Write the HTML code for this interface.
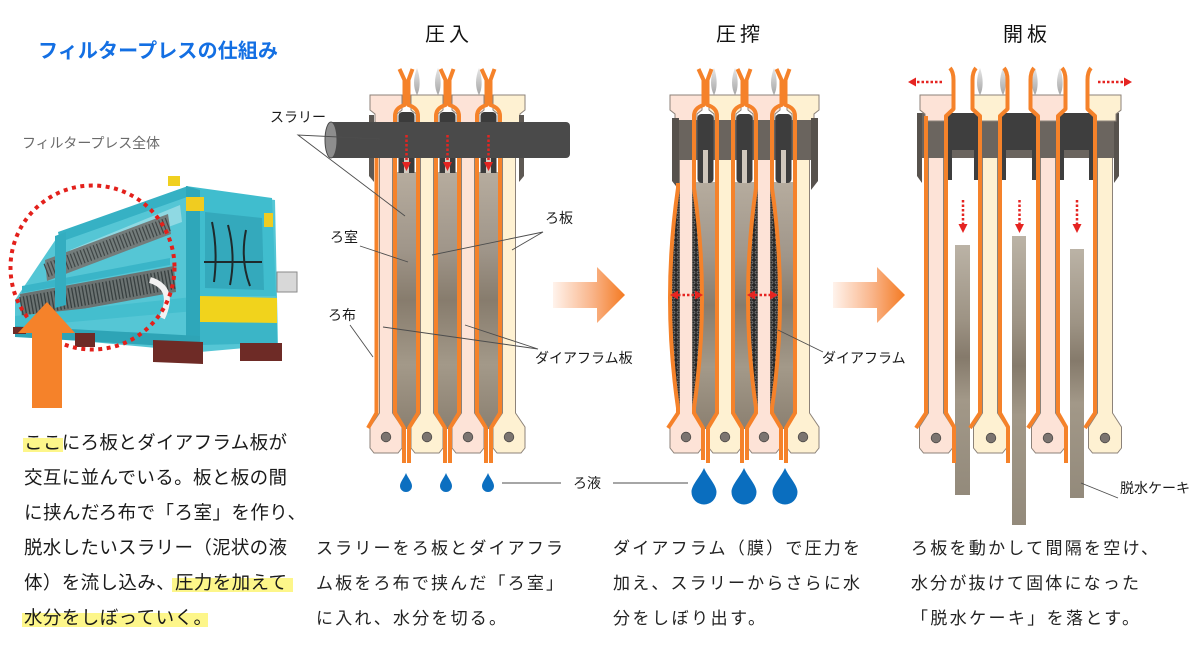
<!DOCTYPE html>
<html><head><meta charset="utf-8">
<style>
html,body{margin:0;padding:0;background:#fff;}
svg{display:block;}
text{font-family:"Liberation Sans","Noto Sans CJK JP",sans-serif;}
</style></head><body>
<svg width="1200" height="660" viewBox="0 0 1200 660" xmlns="http://www.w3.org/2000/svg">
<defs>
 <linearGradient id="arrowG" x1="0" x2="1" y1="0" y2="0">
  <stop offset="0" stop-color="#fff3ec"/>
  <stop offset="0.55" stop-color="#f9b489"/>
  <stop offset="1" stop-color="#f47a22"/>
 </linearGradient>
 <linearGradient id="chG" x1="0" x2="0" y1="0" y2="1">
  <stop offset="0" stop-color="#b6ac9e"/>
  <stop offset="0.3" stop-color="#a0968a"/>
  <stop offset="0.5" stop-color="#877c6d"/>
  <stop offset="0.75" stop-color="#a39989"/>
  <stop offset="1" stop-color="#8b8071"/>
 </linearGradient>
 <linearGradient id="cakeG" x1="0" x2="0" y1="0" y2="1">
  <stop offset="0" stop-color="#bbb3a6"/>
  <stop offset="0.3" stop-color="#9d9384"/>
  <stop offset="0.45" stop-color="#857a6b"/>
  <stop offset="0.62" stop-color="#a29888"/>
  <stop offset="1" stop-color="#938a7b"/>
 </linearGradient>
 <linearGradient id="flameG" x1="0" x2="0" y1="0" y2="1">
  <stop offset="0" stop-color="#e6e6e6"/>
  <stop offset="1" stop-color="#a5a5a5"/>
 </linearGradient>
 <pattern id="mesh" width="5" height="5" patternUnits="userSpaceOnUse">
  <rect width="5" height="5" fill="#262626"/>
  <circle cx="2.5" cy="2.5" r="1.5" fill="none" stroke="#808080" stroke-width="0.7"/>
 </pattern>
 <path id="plateA" d="M-16,95H16V110L11,114V122L6.5,124V413L16,427V448L12,453H-12L-16,448V427L-6.5,413V124L-11,122V114L-16,110Z"/>
 <path id="plateB" d="M-16,95H16V110L11,114V122L7.5,124V413L16.5,427V448L12.5,453H-12.5L-16.5,448V427L-7.5,413V124L-11,122V114L-16,110Z"/>
 <path id="capB" d="M-16,95H16V110L11,114V121H-11V114L-16,110Z"/>
 <path id="chA" d="M-10,172H10V413L1,429H-1L-10,413Z"/>
 <path id="chB" d="M-10,182H10V413L1,429H-1L-10,413Z"/>
 <path id="clL" d="M-7,69L-2,80V105Q-11.5,108 -11.5,116V413L-2.5,428V463"/>
 <path id="clR" d="M6,69L2,80V105Q11.5,108 11.5,116V413L2.5,428V463"/>
 <path id="clLb" d="M-7,69L-2,80V105Q-11.5,108 -11.5,116V188Q4.5,298 -11.5,408V413L-2.5,428V460"/>
 <path id="clRb" d="M6,69L2,80V105Q11.5,108 11.5,116V188Q-4.5,298 11.5,408V413L2.5,428V460"/>
 <path id="bulL" d="M-6.5,188H-8Q-24,298 -8,408H-6.5Z"/>
 <path id="bulR" d="M6.5,188H8Q24,298 8,408H6.5Z"/>
 <path id="p3R" d="M14,68Q17.5,72 17.5,80V109L10,116V413L18,427V463"/>
 <path id="p3L" d="M-14,68Q-17.5,72 -17.5,80V109L-10,116V413L-20,428"/>
 <path id="p3L1" d="M-10,116V413L-20,428"/>
 <path id="flame" d="M0,95C-4,88 -4,78 0,68C3,76 4,88 0,95Z"/>
 <path id="dropS" d="M0,-9C2,-4 6,0 6,4A6,6 0 0 1 -6,4C-6,0 -2,-4 0,-9Z"/>
 <path id="dropL" d="M0,-17C4,-8 12.5,0 12.5,7A12.5,12.5 0 0 1 -12.5,7C-12.5,0 -4,-8 0,-17Z"/>
</defs>

<!-- ===== Title & photo ===== -->
<text x="38" y="57.5" font-size="20" font-weight="bold" fill="#136fe3" textLength="240" lengthAdjust="spacing">フィルタープレスの仕組み</text>
<text x="22" y="148" font-size="14" fill="#6a6a6a" textLength="138" lengthAdjust="spacing">フィルタープレス全体</text>

<g>
 <polygon points="15,300 58,236 188,189 275,200 278,345 200,352 15,335" fill="#55c6d5"/>
 <polygon points="70,250 180,205 182,222 72,262" fill="#8fd9e3"/>
 <polygon points="45,260 168,214 171,234 47,281" fill="#737c7b"/>
 <line x1="46" y1="270.5" x2="169" y2="224" stroke="#3f4646" stroke-width="14" stroke-dasharray="1.2 2.3"/>
 <polygon points="20,294 174,266 176,292 22,320" fill="#6b7372"/>
 <line x1="21" y1="307" x2="175" y2="279" stroke="#384040" stroke-width="20" stroke-dasharray="1.3 2.2"/>
 <polygon points="58,232 188,186 190,196 60,242" fill="#36b1c4"/>
 <polygon points="22,286 170,258 170,265 22,293" fill="#3ab5c8"/>
 <polygon points="15,316 192,297 195,311 15,327" fill="#44bece"/>
 <polygon points="55,236 66,232 66,305 55,308" fill="#33adc0"/>
 <polygon points="186,186 272,198 276,296 200,296" fill="#40bdce"/>
 <polygon points="205,212 262,218 264,290 205,288" fill="#34a9bc"/>
 <path d="M212,222 Q218,250 214,282 M228,225 Q236,255 230,285 M246,230 Q240,260 250,286 M204,262 L262,262" stroke="#1e2a2c" stroke-width="2" fill="none"/>
 <polygon points="186,186 200,190 200,340 186,336" fill="#2ea7ba"/>
 <polygon points="200,296 277,298 277,323 200,322" fill="#f1d31c"/>
 <polygon points="200,322 277,323 277,343 200,345" fill="#3bb5c7"/>
 <polygon points="15,326 200,336 200,348 15,337" fill="#2ea4b6"/>
 <polygon points="153,340 203,342 203,364 153,362" fill="#6e2b26"/>
 <polygon points="240,343 282,343 282,361 240,361" fill="#6e2b26"/>
 <rect x="75" y="333" width="20" height="14" fill="#6e2b26"/>
 <rect x="13" y="327" width="13" height="7" fill="#6e2b26"/>
 <rect x="277" y="272" width="20" height="20" fill="#d8d8d8" stroke="#8a8a8a"/>
 <rect x="168" y="176" width="12" height="10" fill="#f0d020"/>
 <rect x="186" y="197" width="18" height="14" fill="#f0cc20"/>
 <rect x="264" y="213" width="9" height="14" fill="#f0cc20"/>
 <path d="M150,280 Q176,288 162,318" stroke="#f2f2f2" stroke-width="6" fill="none"/>
</g>
<circle cx="92.5" cy="267.5" r="82" fill="none" stroke="#e3201b" stroke-width="4" stroke-dasharray="4 4.5"/>
<polygon points="32,408 32,333 18,333 47,302 75,333 62,333 62,408" fill="#f5822a"/>

<!-- left text -->
<rect x="23" y="438" width="40" height="14" fill="#fdf68a"/>
<rect x="172" y="578" width="121" height="14" fill="#fdf68a"/>
<rect x="22" y="613" width="186" height="14" fill="#fdf68a"/>
<g font-size="18.5" fill="#1a1a1a">
 <text x="24" y="449" textLength="263" lengthAdjust="spacing">ここにろ板とダイアフラム板が</text>
 <text x="24" y="484" textLength="263" lengthAdjust="spacing">交互に並んでいる。板と板の間</text>
 <text x="24" y="519" textLength="282" lengthAdjust="spacing">に挟んだろ布で「ろ室」を作り、</text>
 <text x="24" y="554" textLength="263" lengthAdjust="spacing">脱水したいスラリー（泥状の液</text>
 <text x="24" y="589" textLength="263" lengthAdjust="spacing">体）を流し込み、圧力を加えて</text>
 <text x="24" y="624" textLength="188" lengthAdjust="spacing">水分をしぼっていく。</text>
</g>

<!-- headings -->
<g font-size="20" fill="#111" style="letter-spacing:4px">
 <text x="425" y="41">圧入</text>
 <text x="716" y="41">圧搾</text>
 <text x="1003" y="41">開板</text>
</g>

<!-- ===== Panel 1 ===== -->
<g>
 <use href="#flame" x="417" fill="url(#flameG)"/>
 <use href="#flame" x="438" fill="url(#flameG)"/>
 <use href="#flame" x="479" fill="url(#flameG)"/>
 <use href="#chA" x="406.5" fill="url(#chG)"/>
 <use href="#chA" x="447.5" fill="url(#chG)"/>
 <use href="#chA" x="488.5" fill="url(#chG)"/>
 <g stroke="#8c8279" stroke-width="1">
  <use href="#plateA" x="386" fill="#fde3d7"/>
  <use href="#plateA" x="427" fill="#fef1d2"/>
  <use href="#plateA" x="468" fill="#fde3d7"/>
  <use href="#plateA" x="509" fill="#fef1d2"/>
 </g>
 <g fill="#7b7470" stroke="#4e4a47" stroke-width="0.8">
  <circle cx="386" cy="437" r="4.8"/><circle cx="427" cy="437" r="4.8"/>
  <circle cx="468" cy="437" r="4.8"/><circle cx="509" cy="437" r="4.8"/>
 </g>
 <polygon points="369,115 374,115 374,182 369,176" fill="#5d5853"/>
 <polygon points="519,115 524,115 524,176 519,182" fill="#5d5853"/>
 <g fill="#3b3b3b">
  <rect x="398.5" y="112" width="16" height="14" rx="4"/>
  <rect x="439.5" y="112" width="16" height="14" rx="4"/>
  <rect x="480.5" y="112" width="16" height="14" rx="4"/>
  <rect x="398.5" y="156" width="16" height="17"/>
  <rect x="439.5" y="156" width="16" height="17"/>
  <rect x="480.5" y="156" width="16" height="17"/>
 </g>
 <g fill="#d2cac0">
  <rect x="404" y="156" width="5" height="17"/>
  <rect x="445" y="156" width="5" height="17"/>
  <rect x="486" y="156" width="5" height="17"/>
 </g>
 <g fill="none" stroke="#f5822a" stroke-width="4" stroke-linejoin="round">
  <use href="#clL" x="406.5"/><use href="#clR" x="406.5"/>
  <use href="#clL" x="447.5"/><use href="#clR" x="447.5"/>
  <use href="#clL" x="488.5"/><use href="#clR" x="488.5"/>
  <path d="M376.5,122V413L368,428"/>
 </g>
 <rect x="328" y="122" width="242" height="36" rx="4" fill="#4a4a4a"/>
 <ellipse cx="331" cy="140" rx="6" ry="18" fill="#8d8d8d" stroke="#4a4a4a"/>
 <g stroke="#e52421" stroke-width="2.5" stroke-dasharray="2.5 2">
  <line x1="406.5" y1="135" x2="406.5" y2="163"/>
  <line x1="447.5" y1="135" x2="447.5" y2="163"/>
  <line x1="488.5" y1="135" x2="488.5" y2="163"/>
 </g>
 <g fill="#e52421">
  <polygon points="402,162 411,162 406.5,171"/>
  <polygon points="443,162 452,162 447.5,171"/>
  <polygon points="484,162 493,162 488.5,171"/>
 </g>
 <g fill="#0c6fc0">
  <use href="#dropS" x="406" y="482"/>
  <use href="#dropS" x="446" y="482"/>
  <use href="#dropS" x="488" y="482"/>
 </g>
</g>

<!-- ===== Panel 2 ===== -->
<g>
 <use href="#flame" x="714" fill="url(#flameG)"/>
 <use href="#flame" x="735" fill="url(#flameG)"/>
 <use href="#flame" x="774" fill="url(#flameG)"/>
 <use href="#chB" x="705.5" fill="url(#chG)"/>
 <use href="#chB" x="744.5" fill="url(#chG)"/>
 <use href="#chB" x="783.5" fill="url(#chG)"/>
 <g stroke="#8c8279" stroke-width="1">
  <use href="#plateA" x="686" fill="#fde3d7"/>
  <use href="#plateA" x="725" fill="#fef1d2"/>
  <use href="#plateA" x="764" fill="#fde3d7"/>
  <use href="#plateA" x="803" fill="#fef1d2"/>
 </g>
 <g fill="#7b7470" stroke="#4e4a47" stroke-width="0.8">
  <circle cx="686" cy="437" r="4.8"/><circle cx="725" cy="437" r="4.8"/>
  <circle cx="764" cy="437" r="4.8"/><circle cx="803" cy="437" r="4.8"/>
 </g>
 <g fill="url(#mesh)">
  <use href="#bulL" x="686"/><use href="#bulR" x="686"/>
  <use href="#bulL" x="764"/><use href="#bulR" x="764"/>
 </g>
 <rect x="673" y="120" width="144" height="40" fill="#6a645e"/>
 <polygon points="672,118 679,118 679,190 672,181" fill="#57524d"/>
 <polygon points="811,118 818,118 818,181 811,190" fill="#57524d"/>
 <g fill="#3d3d3d">
  <rect x="697.5" y="114" width="16" height="69" rx="4"/>
  <rect x="736.5" y="114" width="16" height="69" rx="4"/>
  <rect x="775.5" y="114" width="16" height="69" rx="4"/>
 </g>
 <g fill="#cfc7bc">
  <rect x="703" y="150" width="5" height="33"/>
  <rect x="742" y="150" width="5" height="33"/>
  <rect x="781" y="150" width="5" height="33"/>
 </g>
 <g fill="none" stroke="#f5822a" stroke-width="4" stroke-linejoin="round">
  <use href="#clLb" x="705.5"/><use href="#clR" x="705.5"/>
  <use href="#clL" x="744.5"/><use href="#clRb" x="744.5"/>
  <use href="#clLb" x="783.5"/><use href="#clR" x="783.5"/>
  <path d="M678,183V188Q662,298 678,408V413L668,428"/>
 </g>
 <g stroke="#e52421" stroke-width="2.5" stroke-dasharray="2.5 2">
  <line x1="678" y1="295" x2="695" y2="295"/>
  <line x1="755" y1="295" x2="770" y2="295"/>
 </g>
 <g fill="#e52421">
  <polygon points="670,295 678,290.5 678,299.5"/>
  <polygon points="703,295 695,290.5 695,299.5"/>
  <polygon points="747,295 755,290.5 755,299.5"/>
  <polygon points="778,295 770,290.5 770,299.5"/>
 </g>
 <g fill="#0a6ebf">
  <use href="#dropL" x="704" y="485"/>
  <use href="#dropL" x="744" y="485"/>
  <use href="#dropL" x="785" y="485"/>
 </g>
</g>

<!-- ===== Panel 3 ===== -->
<g>
 <g stroke="#8c8279" stroke-width="1">
  <use href="#plateB" x="936" fill="#fde3d7"/>
  <use href="#plateB" x="990" fill="#fef1d2"/>
  <use href="#plateB" x="1048" fill="#fde3d7"/>
  <use href="#plateB" x="1105" fill="#fef1d2"/>
 </g>
 <g fill="#7b7470" stroke="#4e4a47" stroke-width="0.8">
  <circle cx="936" cy="438" r="4.8"/><circle cx="991" cy="438" r="4.8"/>
  <circle cx="1048" cy="438" r="4.8"/><circle cx="1105" cy="438" r="4.8"/>
 </g>
 <rect x="917" y="113" width="202" height="45" fill="#6b655f"/>
 <polygon points="917,113 922,113 922,183 917,176" fill="#57524d"/>
 <polygon points="1114,113 1119,113 1119,176 1114,183" fill="#57524d"/>
 <g stroke="#8c8279" stroke-width="1">
  <use href="#capB" x="936" fill="#fde3d7"/>
  <use href="#capB" x="990" fill="#fef1d2"/>
  <use href="#capB" x="1048" fill="#fde3d7"/>
  <use href="#capB" x="1105" fill="#fef1d2"/>
 </g>
 <g fill="#3e3e3e">
  <rect x="947" y="113" width="32" height="37"/>
  <rect x="947" y="150" width="5" height="30"/>
  <rect x="974" y="150" width="5" height="30"/>
  <rect x="1001" y="113" width="36" height="37"/>
  <rect x="1001" y="150" width="5" height="30"/>
  <rect x="1032" y="150" width="5" height="30"/>
  <rect x="1059" y="113" width="35" height="37"/>
  <rect x="1059" y="150" width="5" height="30"/>
  <rect x="1089" y="150" width="5" height="30"/>
 </g>
 <g fill="url(#cakeG)">
  <rect x="955" y="245" width="15" height="250"/>
  <rect x="1012" y="236" width="14" height="289"/>
  <rect x="1070" y="249" width="14" height="249"/>
 </g>
 <use href="#flame" x="980" fill="url(#flameG)"/>
 <use href="#flame" x="1003" fill="url(#flameG)"/>
 <use href="#flame" x="1035" fill="url(#flameG)"/>
 <use href="#flame" x="1060" fill="url(#flameG)"/>
 <g fill="none" stroke="#f5822a" stroke-width="4" stroke-linejoin="round">
  <use href="#p3L1" x="936"/><use href="#p3R" x="936"/>
  <use href="#p3L" x="990"/><use href="#p3R" x="990"/>
  <use href="#p3L" x="1048"/><use href="#p3R" x="1048"/>
  <use href="#p3L" x="1105"/>
 </g>
 <g stroke="#e52421" stroke-width="2.5" stroke-dasharray="2.5 2">
  <line x1="942" y1="82" x2="916" y2="82"/>
  <line x1="1098" y1="82" x2="1124" y2="82"/>
  <line x1="963" y1="200" x2="963" y2="225"/>
  <line x1="1019.5" y1="200" x2="1019.5" y2="225"/>
  <line x1="1077" y1="200" x2="1077" y2="225"/>
 </g>
 <g fill="#e52421">
  <polygon points="908,82 916,77.5 916,86.5"/>
  <polygon points="1132,82 1124,77.5 1124,86.5"/>
  <polygon points="958.5,224 967.5,224 963,233"/>
  <polygon points="1015,224 1024,224 1019.5,233"/>
  <polygon points="1072.5,224 1081.5,224 1077,233"/>
 </g>
</g>

<!-- big arrows -->
<polygon points="553,282 597,282 597,267 625,295 597,323 597,308 553,308" fill="url(#arrowG)"/>
<polygon points="833,282 877,282 877,267 905,295 877,323 877,308 833,308" fill="url(#arrowG)"/>

<!-- leader lines -->
<g stroke="#4d4d4d" stroke-width="0.9" fill="none">
 <path d="M380,139L298,135L405,216"/>
 <line x1="360" y1="246" x2="408" y2="262"/>
 <path d="M432,255L543,232L512,250"/>
 <line x1="350" y1="325" x2="373" y2="357"/>
 <path d="M383,327L538,349L465,325"/>
 <line x1="502" y1="483" x2="561" y2="483"/>
 <line x1="613" y1="483" x2="688" y2="483"/>
 <line x1="823" y1="352" x2="778" y2="330"/>
 <line x1="1118" y1="498" x2="1081" y2="483"/>
</g>

<!-- labels -->
<g font-size="14" fill="#1a1a1a">
 <text x="270" y="122">スラリー</text>
 <text x="330" y="242">ろ室</text>
 <text x="545" y="223">ろ板</text>
 <text x="328" y="320">ろ布</text>
 <text x="535" y="363">ダイアフラム板</text>
 <text x="573" y="488">ろ液</text>
 <text x="822" y="363">ダイアフラム</text>
 <text x="1120" y="493">脱水ケーキ</text>
</g>

<!-- bottom texts -->
<g font-size="17" fill="#222">
 <text x="316" y="554" textLength="247" lengthAdjust="spacing">スラリーをろ板とダイアフラ</text>
 <text x="316" y="589" textLength="247" lengthAdjust="spacing">ム板をろ布で挟んだ「ろ室」</text>
 <text x="316" y="624" textLength="190" lengthAdjust="spacing">に入れ、水分を切る。</text>
 <text x="613" y="554" textLength="247" lengthAdjust="spacing">ダイアフラム（膜）で圧力を</text>
 <text x="613" y="589" textLength="247" lengthAdjust="spacing">加え、スラリーからさらに水</text>
 <text x="613" y="624" textLength="152" lengthAdjust="spacing">分をしぼり出す。</text>
 <text x="911" y="554" textLength="247" lengthAdjust="spacing">ろ板を動かして間隔を空け、</text>
 <text x="911" y="589" textLength="228" lengthAdjust="spacing">水分が抜けて固体になった</text>
 <text x="911" y="624" textLength="228" lengthAdjust="spacing">「脱水ケーキ」を落とす。</text>
</g>
</svg>
</body></html>
